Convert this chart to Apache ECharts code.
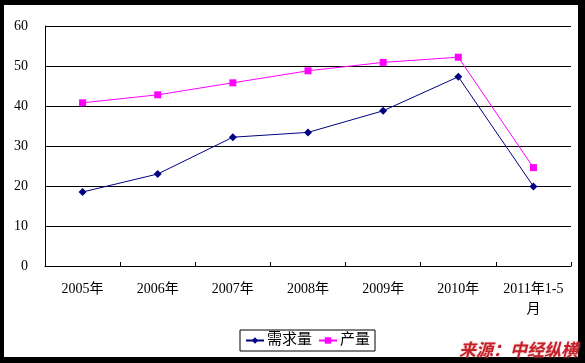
<!DOCTYPE html>
<html>
<head>
<meta charset="utf-8">
<script src="https://cdn.jsdelivr.net/npm/echarts@6/dist/echarts.min.js"></script>
<style>
html,body{margin:0;padding:0;}
#wrap{position:relative;width:585px;height:363px;background:#000;overflow:hidden;}
#paper{position:absolute;left:4px;top:5px;width:574px;height:352px;background:#fff;}
#chart{position:absolute;left:0;top:0;width:585px;height:363px;}
</style>
</head>
<body>
<div id="wrap"><div id="paper"></div><div id="chart"></div></div>
<script>
const categories = ['2005年','2006年','2007年','2008年','2009年','2010年','2011年1-5\n月'];
const demand = [18.5, 23.0, 32.2, 33.4, 38.8, 47.3, 19.9];
const output = [40.8, 42.8, 45.8, 48.8, 50.9, 52.2, 24.6];
const seriesNames = ['需求量','产量'];
const yTicks = {min:0, max:60, interval:10};

const FONT = '"Liberation Serif","Noto Sans CJK SC",serif';
const chart = echarts.init(document.getElementById('chart'), null, {renderer:'canvas'});
chart.setOption({
  backgroundColor:'transparent',
  animation:false,
  textStyle:{fontFamily:FONT},
  grid:{left:45, top:26, right:14, bottom:97, containLabel:false},
  xAxis:{
    type:'category',
    data:categories,
    boundaryGap:true,
    axisLine:{lineStyle:{color:'#000', width:1}},
    axisTick:{show:true, inside:true, length:4, lineStyle:{color:'#000'}},
    axisLabel:{color:'#000', fontSize:14, fontFamily:FONT, margin:13, lineHeight:20, interval:0}
  },
  yAxis:{
    type:'value',
    min:yTicks.min, max:yTicks.max, interval:yTicks.interval,
    axisLine:{show:true, lineStyle:{color:'#000', width:1}},
    axisTick:{show:false},
    splitLine:{show:true, lineStyle:{color:'#000', width:1}},
    axisLabel:{color:'#000', fontSize:14, fontFamily:FONT, margin:17}
  },
  legend:{
    left:240, top:330, width:137, height:23,
    padding:[3,5,3,5],
    borderColor:'#000', borderWidth:1, backgroundColor:'#fff',
    itemWidth:18, itemHeight:8, itemGap:6,
    textStyle:{color:'#000', fontSize:15, fontFamily:FONT, padding:[0,0,0,-2]},
    data:seriesNames
  },
  series:[
    {
      name:seriesNames[0], type:'line', data:demand,
      symbol:'diamond', symbolSize:8,
      lineStyle:{color:'#000080', width:1},
      itemStyle:{color:'#000080'}
    },
    {
      name:seriesNames[1], type:'line', data:output,
      symbol:'rect', symbolSize:7,
      lineStyle:{color:'#ff00ff', width:1},
      itemStyle:{color:'#ff00ff'}
    }
  ],
  graphic:[{
    type:'text', right:7, top:341, z:100,
    style:{
      text:'来源：中经纵横',
      fill:'#c4222a',
      font:'italic bold 17px "Noto Sans CJK SC", sans-serif',
      textShadowColor:'rgba(230,140,140,0.8)', textShadowBlur:2
    }
  }]
});
</script>
</body>
</html>
